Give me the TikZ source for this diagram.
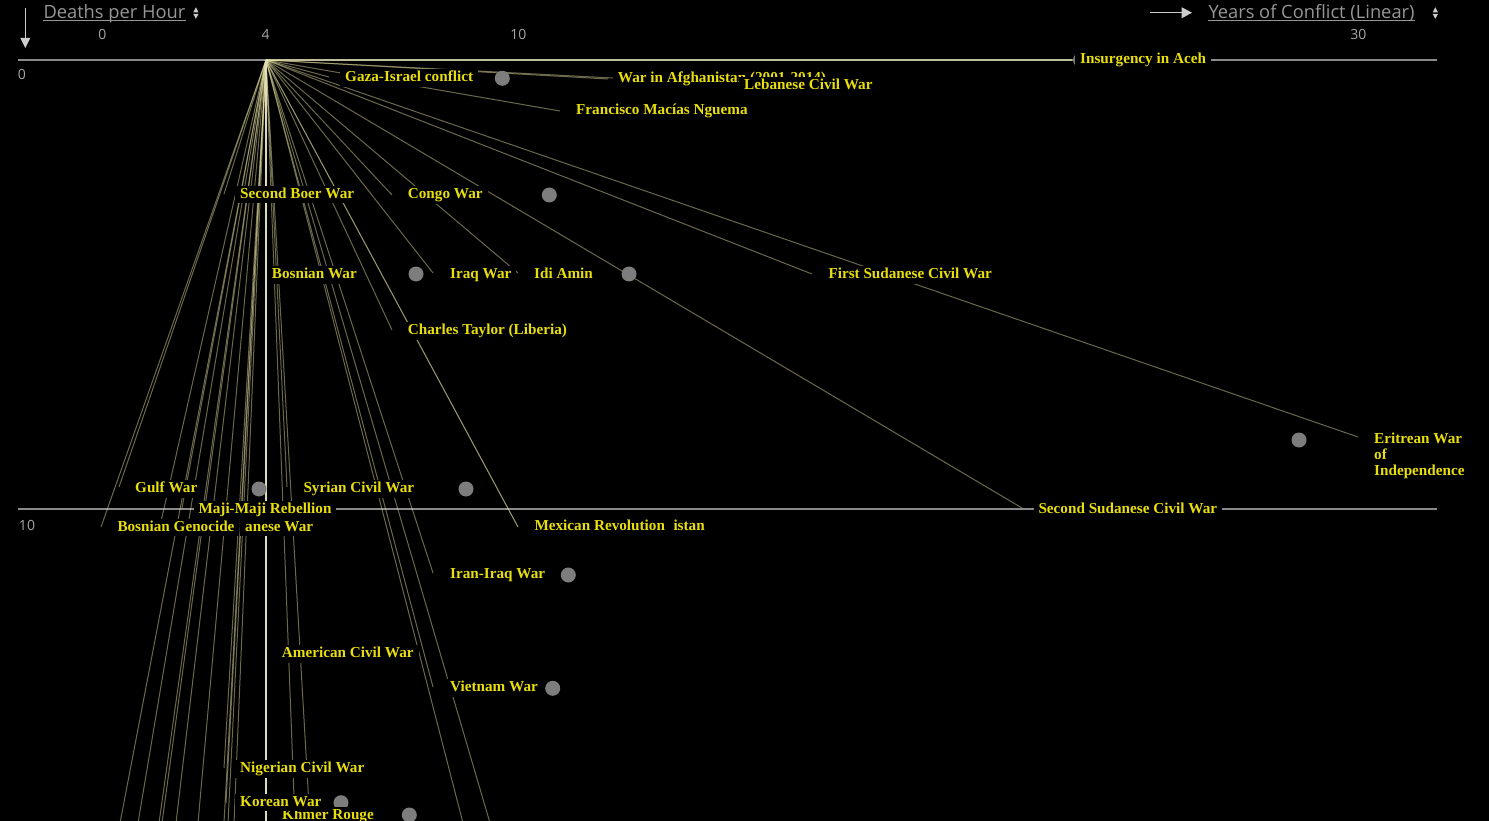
\documentclass[tikz,border=0pt]{standalone}
\usepackage{fontspec}
\setmainfont{Liberation Serif}
\newfontfamily\uifont{Open Sans}
\definecolor{labyellow}{RGB}{232,222,12}
\definecolor{fanline}{RGB}{238,232,168}
\definecolor{axisgray}{RGB}{138,138,138}
\definecolor{dotgray}{RGB}{125,125,125}
\definecolor{uigray}{RGB}{150,150,150}
\definecolor{icongray}{RGB}{205,205,205}
\definecolor{tickgray}{RGB}{165,165,165}
\definecolor{vline}{RGB}{222,218,188}
\begin{document}
\begin{tikzpicture}[x=1pt,y=-1pt,
  lab/.style={anchor=west, yshift=-1.5pt, fill=black, text=labyellow, font=\bfseries\fontsize{15.2}{16}\selectfont, inner xsep=5pt, inner ysep=1.5pt, text height=11pt, text depth=3.5pt},
  multilab/.style={anchor=north west, fill=black, text=labyellow, font=\bfseries\fontsize{15.2}{16}\selectfont, inner xsep=5pt, inner ysep=1.5pt, align=left},
  fan/.style={draw=fanline, draw opacity=0.45, line width=1pt},
  dotc/.style={circle, fill=dotgray, minimum size=15pt, inner sep=0pt},
  tick/.style={text=tickgray, font=\uifont\fontsize{14}{14}\selectfont, inner sep=0pt},
  head/.style={anchor=base west, text=uigray, font=\uifont\fontsize{18.3}{18}\selectfont, inner sep=0pt},
  axisline/.style={draw=axisgray, line width=1.6pt}
  ]
\useasboundingbox (0,0) rectangle (1489,821);
\fill[black] (0,0) rectangle (1489,821);
\clip (0,0) rectangle (1489,821);

% axes
\coordinate (ax0a) at (18,60);   \coordinate (ax0b) at (1437,60);
\coordinate (ax10a) at (18,509); \coordinate (ax10b) at (1437,509);
\draw[axisline] (ax0a) -- (ax0b);
\draw[axisline] (ax10a) -- (ax10b);

% origin of the fan
\coordinate (o) at (266,60);

% fan lines
\foreach \n/\x/\y in {gazaL/329/77, afgL/608/79, lebL/728/84, franL/560/111,
  congoL/392/195, iraqL/433/273, idiL/518/273, ctL/392/330, mexL/518/527,
  sudIIL/1022/508, sudIL/812/274, eriL/1358/437, syrL/287/487, iranL/433/573,
  vietL/433/687, rA/295/823, rB/310/823, rC/463/823, rD/490/823,
  bgL/101/527, gulfL/119/487, boerL/224/194, majiL/182/508, aneseL/160/526,
  nigL/224/768, korL/226/803,
  lA/120/823, lB/138/823, lC/159/823, lD/162/823, lE/176/823, lF/198/823,
  lG/224/823, lH/228/823, lI/234/823}
{
  \coordinate (\n) at (\x,\y);
  \draw[fan] (o) -- (\n);
}
\coordinate (acehL) at (1072,60);
\draw[fan, draw opacity=0.55, line width=1.5pt] (o) -- (acehL);
\draw[fan, draw opacity=0.35] (o) -- (mexL);
\coordinate (vertL) at (266,823);
\draw[draw=vline, line width=1.4pt] (o) -- (vertL);

% dots
\foreach \n/\x/\y in {d1/502.3/78.3, d2/549.3/195, d3/416/274, d4/629/274,
  d5/1299/440, d6/259/489, d7/466/489, d8/568.3/575, d9/552.7/688.3,
  d10/341/802.7, d11/409.3/815, d12/1080.5/60}
{
  \node[dotc] (\n) at (\x,\y) {};
}

% labels
\node[lab] (gaza) at (340,76.7) {Gaza-Israel conflict};
\node[lab] (afg) at (612.7,77.3) {War in Afghanistan (2001-2014)};
\node[lab] (leb) at (739,84) {Lebanese Civil War};
\node[lab] (fran) at (571,109.3) {Francisco Macías Nguema};
\node[lab] (aceh) at (1075,58.3) {Insurgency in Aceh};
\node[lab] (boer) at (235,193.2) {Second Boer War};
\node[lab] (congo) at (402.7,193.3) {Congo War};
\node[lab] (bosw) at (266.7,273.3) {Bosnian War};
\node[lab] (iraq) at (445,273.3) {Iraq War};
\node[lab] (idi) at (529,273.3) {Idi Amin};
\node[lab] (sudI) at (823.3,273.3) {First Sudanese Civil War};
\node[lab] (ct) at (402.7,329.3) {Charles Taylor (Liberia)};
\node[multilab] (eri) at (1369,431) {Eritrean War\\of\\Independence};
\node[lab] (gulf) at (130,487.3) {Gulf War};
\node[lab] (syr) at (298.3,487.3) {Syrian Civil War};
\node[lab] (maji) at (193.3,508.3) {Maji-Maji Rebellion};
\node[lab] (sudII) at (1033.3,508.3) {Second Sudanese Civil War};
\node[lab] (anese) at (240,526) {anese War};
\node[lab] (bgen) at (112.3,526) {Bosnian Genocide};
\node[lab] (istan) at (668.3,525.7) {istan};
\node[lab] (mex) at (529.3,525.7) {Mexican Revolution};
\node[lab] (iran) at (445,573.3) {Iran-Iraq War};
\node[lab] (acw) at (276.7,652.3) {American Civil War};
\node[lab] (viet) at (445,686.7) {Vietnam War};
\node[lab] (nig) at (235,767.7) {Nigerian Civil War};
\node[lab] (khmer) at (277,814.3) {Khmer Rouge};
\node[lab] (kor) at (235,801) {Korean War};

% header: left
\draw[draw=icongray, line width=1.3pt] (25.3,8) -- (25.3,39);
\fill[icongray] (20.3,38) -- (30.3,38) -- (25.3,48) -- cycle;
\node[head] (dph) at (43.3,18.3) {Deaths per Hour};
\draw[draw=uigray, line width=1pt] ([yshift=-2.4pt]dph.base west) -- ([yshift=-2.4pt]dph.base east);
\fill[icongray] (193.3,12.3) -- (198.5,12.3) -- (195.9,7.3) -- cycle;
\fill[icongray] (193.3,14) -- (198.5,14) -- (195.9,18.8) -- cycle;

% header: right
\draw[draw=icongray, line width=1.3pt] (1150,12.7) -- (1182,12.7);
\fill[icongray] (1181.7,7.3) -- (1181.7,18.3) -- (1192,12.7) -- cycle;
\node[head] (yoc) at (1208.3,18.3) {Years of Conflict (Linear)};
\draw[draw=uigray, line width=1pt] ([yshift=-2.4pt]yoc.base west) -- ([yshift=-2.4pt]yoc.base east);
\fill[icongray] (1432.7,12.3) -- (1437.9,12.3) -- (1435.3,7.3) -- cycle;
\fill[icongray] (1432.7,14) -- (1437.9,14) -- (1435.3,18.8) -- cycle;

% ticks
\node[tick] (t0) at (102.3,34) {0};
\node[tick] (t4) at (265.7,34) {4};
\node[tick] (t10) at (518.3,34) {10};
\node[tick] (t30) at (1358.3,34) {30};
\node[tick] (y0) at (22,74.5) {0};
\node[tick] (y10) at (27,525) {10};
\end{tikzpicture}
\end{document}
